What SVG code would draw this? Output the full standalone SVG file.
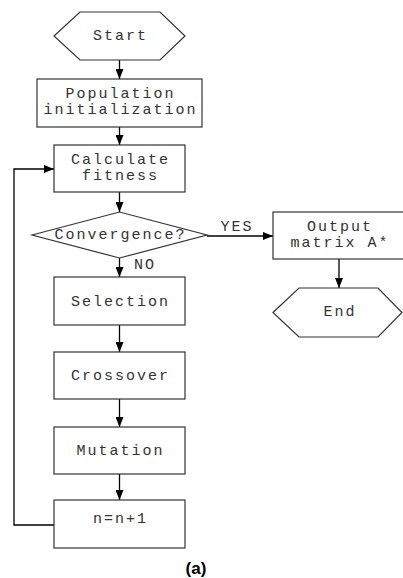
<svg xmlns="http://www.w3.org/2000/svg" width="403" height="578" viewBox="0 0 403 578">
<defs>
<marker id="ah" markerWidth="10" markerHeight="8" refX="10" refY="4" orient="auto" markerUnits="userSpaceOnUse">
<path d="M0,0 L10,4 L0,8 Z" fill="#000"/>
</marker>
<style>
.n{fill:#fff;stroke:#333;stroke-width:1.2}
.t{font-family:"Liberation Mono","DejaVu Sans Mono",monospace;font-size:15px;fill:#333;text-anchor:middle;dominant-baseline:central;letter-spacing:2px}
.c{fill:none;stroke:#000;stroke-width:1.3;marker-end:url(#ah)}
</style>
</defs>
<rect width="403" height="578" fill="#fff"/>
<g id="connectors">
<line class="c" x1="119.5" y1="60" x2="119.5" y2="79"/>
<line class="c" x1="119.5" y1="127" x2="119.5" y2="145"/>
<line class="c" x1="119.5" y1="192" x2="119.5" y2="212"/>
<line class="c" x1="119.5" y1="258" x2="119.5" y2="277"/>
<line class="c" x1="119.5" y1="325" x2="119.5" y2="352"/>
<line class="c" x1="119.5" y1="399" x2="119.5" y2="427"/>
<line class="c" x1="119.5" y1="474" x2="119.5" y2="500"/>
<line class="c" x1="207" y1="236" x2="273" y2="236"/>
<line class="c" x1="339" y1="259" x2="339" y2="288"/>
<polyline class="c" points="54,525 14,525 14,169 54,169"/>
<text class="t" x="237" y="227">YES</text>
<text class="t" x="145" y="265">NO</text>
</g>
<g id="start"><polygon class="n" points="54,36 80,12 160,12 185,36 160,60 80,60"/><text class="t" x="120.5" y="36">Start</text></g>
<g id="init"><rect class="n" x="37" y="79" width="165" height="48"/><text class="t" x="120.5" y="94">Population</text><text class="t" x="120.5" y="110">initialization</text></g>
<g id="fitness"><rect class="n" x="54" y="145" width="131" height="47"/><text class="t" x="120.5" y="160">Calculate</text><text class="t" x="120.5" y="176">fitness</text></g>
<g id="converge"><polygon class="n" points="32,235 119.5,212 207,235 119.5,258"/><text class="t" x="120.5" y="235">Convergence?</text></g>
<g id="selection"><rect class="n" x="54" y="277" width="131" height="48"/><text class="t" x="120.5" y="302">Selection</text></g>
<g id="crossover"><rect class="n" x="54" y="352" width="131" height="47"/><text class="t" x="120.5" y="376">Crossover</text></g>
<g id="mutation"><rect class="n" x="54" y="427" width="131" height="47"/><text class="t" x="120.5" y="451">Mutation</text></g>
<g id="incr"><rect class="n" x="54" y="500" width="131" height="48"/><text class="t" x="120.5" y="519">n=n+1</text></g>
<g id="output"><rect class="n" x="273" y="212" width="132" height="47"/><text class="t" x="340" y="227">Output</text><text class="t" x="340" y="243">matrix A*</text></g>
<g id="end"><polygon class="n" points="273,312.5 299,288 378,288 402,312.5 378,337 299,337"/><text class="t" x="340" y="312.5">End</text></g>
<text x="196" y="568" font-family="Liberation Sans, Arial, sans-serif" font-size="17" font-weight="bold" text-anchor="middle" dominant-baseline="central" fill="#000">(a)</text>
</svg>
